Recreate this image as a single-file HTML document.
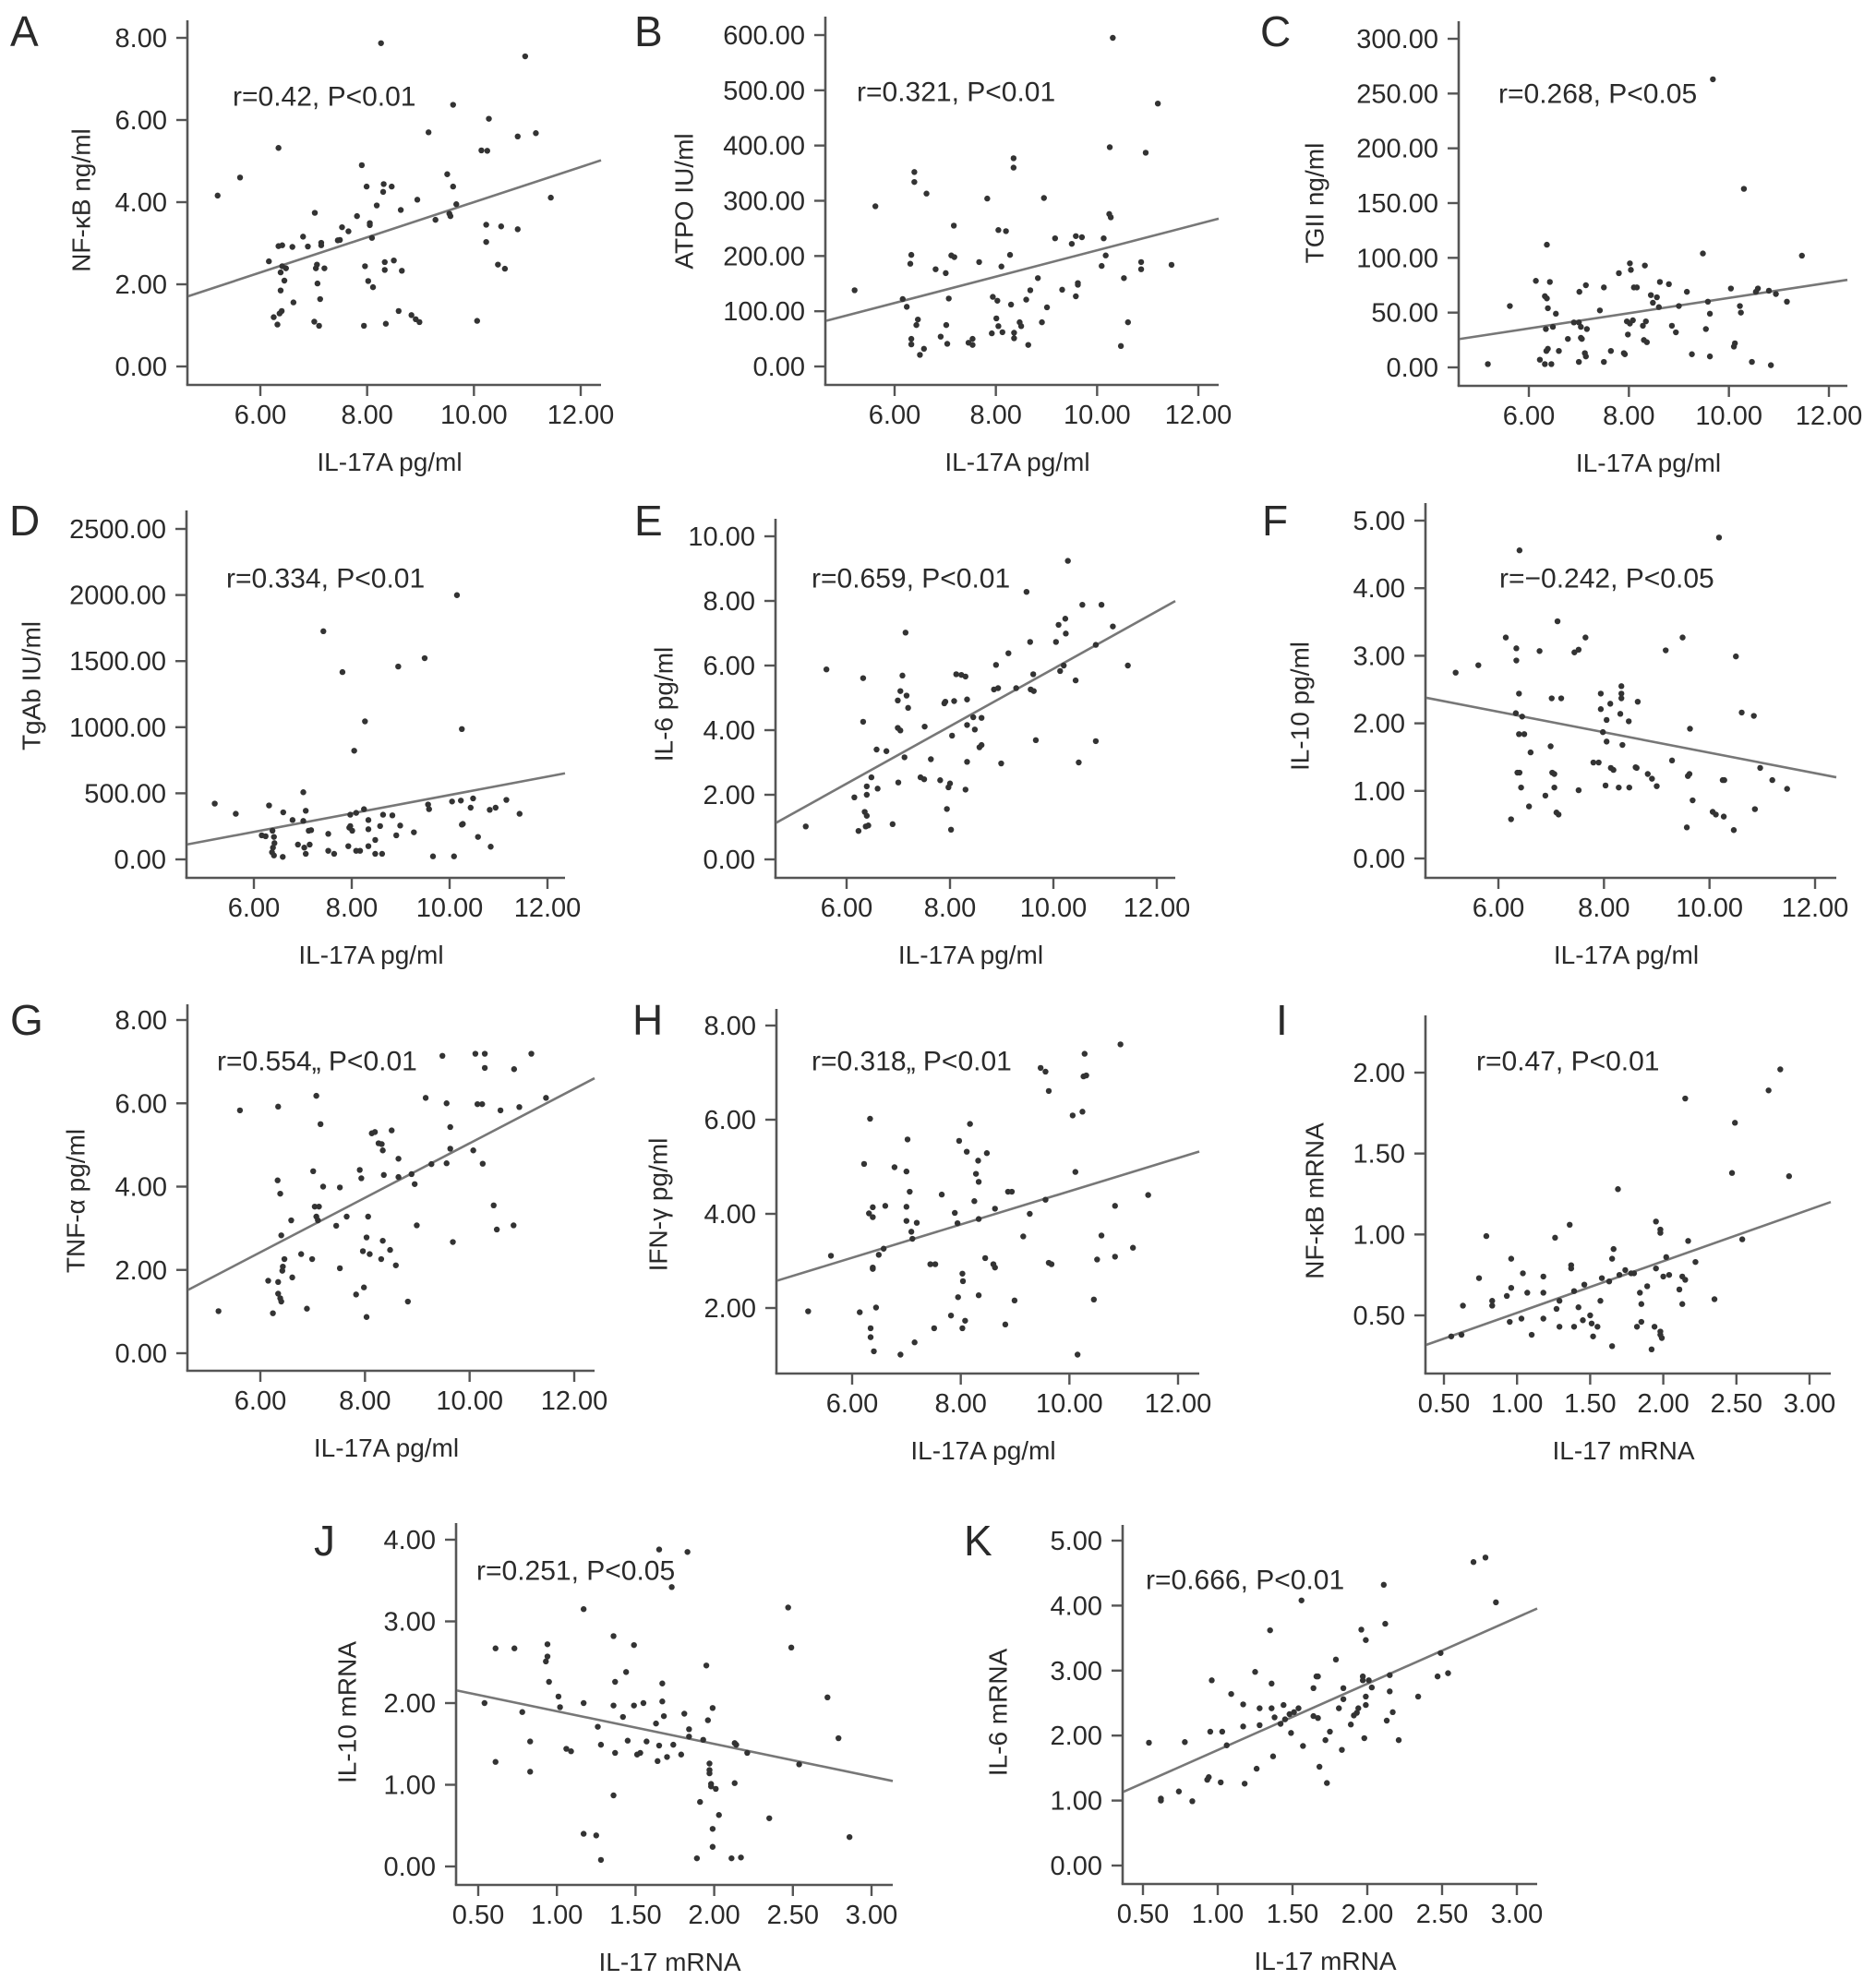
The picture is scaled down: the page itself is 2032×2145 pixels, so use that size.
<!DOCTYPE html>
<html><head><meta charset="utf-8"><title>IL-17 correlation scatter plots</title>
<style>
html,body{margin:0;padding:0;background:#fff;}
svg{display:block;}
text{font-family:"Liberation Sans",Arial,sans-serif;fill:#2a2a2a;}
</style></head>
<body>
<svg id="fig" xmlns="http://www.w3.org/2000/svg" width="2032" height="2145" viewBox="0 0 2032 2145"></svg>
<script>
// ---- data ----
const panelLetters = ["A","B","C","D","E","F","G","H","I","J","K"];
const yTitles = ["NF-κB ng/ml","ATPO IU/ml","TGII ng/ml","TgAb IU/ml","IL-6 pg/ml","IL-10 pg/ml","TNF-α pg/ml","IFN-γ pg/ml","NF-κB mRNA","IL-10 mRNA","IL-6 mRNA"];
const xTitles = ["IL-17A pg/ml","IL-17A pg/ml","IL-17A pg/ml","IL-17A pg/ml","IL-17A pg/ml","IL-17A pg/ml","IL-17A pg/ml","IL-17A pg/ml","IL-17 mRNA","IL-17 mRNA","IL-17 mRNA"];
const annotations = ["r=0.42, P<0.01","r=0.321, P<0.01","r=0.268, P<0.05","r=0.334, P<0.01","r=0.659, P<0.01","r=−0.242, P<0.05","r=0.554„ P<0.01","r=0.318„ P<0.01","r=0.47, P<0.01","r=0.251, P<0.05","r=0.666, P<0.01"];
const xTicksPg = [6,8,10,12];
const xTicksMrna = [0.5,1,1.5,2,2.5,3];
const yTicksA = [0,2,4,6,8];
const yTicksB = [0,100,200,300,400,500,600];
const yTicksC = [0,50,100,150,200,250,300];
const yTicksD = [0,500,1000,1500,2000,2500];
const yTicksE = [0,2,4,6,8,10];
const yTicksF = [0,1,2,3,4,5];
const yTicksG = [0,2,4,6,8];
const yTicksH = [2,4,6,8];
const yTicksI = [0.5,1,1.5,2];
const yTicksJ = [0,1,2,3,4];
const yTicksK = [0,1,2,3,4,5];
const regSlope = [0.428,23.85,6.96,69.7,0.889,-0.1515,0.654,0.353,0.319,-0.40,1.02];
const regIntercept = [-0.28,-28.2,-6.2,-210,-2.99,3.08,-1.50,0.95,0.197,2.30,0.757];

const A_x=[5.20,5.62,6.34,6.16,6.41,6.34,6.60,6.80,6.89,7.02,7.14,7.14,6.41,6.48,6.38,6.45,6.38,6.62,6.40,6.36,6.25,6.32,7.01,7.10,7.06,7.04,7.20,7.07,7.12,7.49,7.45,7.53,7.65,7.81,7.90,7.99,8.05,8.05,8.09,8.18,8.30,8.31,8.46,7.96,8.02,8.11,7.94,8.33,8.33,8.50,8.63,8.65,8.59,8.35,8.83,8.91,8.98,8.94,9.15,9.28,9.50,9.61,9.54,9.56,9.67,9.61,10.14,10.25,10.28,10.06,10.23,10.23,10.51,10.45,10.58,10.82,10.82,10.96,11.16,11.44,8.26];
const A_y=[4.16,4.60,5.32,2.56,2.95,2.93,2.91,3.16,2.92,3.74,3.01,2.95,2.44,2.39,2.29,2.09,1.85,1.56,1.35,1.29,1.20,1.02,1.09,0.99,2.48,2.39,2.39,2.02,1.64,3.08,3.07,3.39,3.29,3.66,4.90,4.38,3.49,3.44,3.13,3.92,4.25,4.44,4.38,2.44,2.08,1.93,0.99,2.54,2.35,2.58,3.81,2.33,1.35,1.04,1.25,1.15,1.08,4.06,5.70,3.57,4.68,4.38,3.72,3.66,3.95,6.37,5.26,5.25,6.03,1.11,3.45,3.03,3.41,2.48,2.38,5.60,3.34,7.55,5.68,4.11,7.87];
const B_x=[5.21,5.62,6.16,6.24,6.39,6.39,6.33,6.31,6.46,6.43,6.33,6.33,6.58,6.50,6.63,6.81,6.91,7.01,7.02,7.04,7.07,7.17,7.12,7.18,7.46,7.54,7.54,7.67,7.83,7.94,8.03,8.01,8.05,8.13,7.92,8.05,8.20,8.11,8.35,8.35,8.28,8.30,8.36,8.36,8.47,8.50,8.60,8.68,8.64,8.83,8.95,9.01,8.91,9.17,9.31,9.50,9.58,9.70,9.62,9.62,9.58,10.13,10.09,10.17,10.25,10.24,10.27,10.31,10.53,10.47,10.61,10.87,10.87,10.96,11.20,11.47];
const B_y=[138,290,122,108,352,334,202,186,85,75,50,40,32,21,313,176,54,169,75,41,123,255,201,198,43,50,39,189,304,126,119,87,73,62,60,247,245,181,377,360,202,112,61,51,80,73,121,138,39,160,305,107,80,232,139,222,236,234,151,148,127,232,182,201,397,276,270,595,160,37,80,189,176,387,476,184];
const C_x=[5.18,5.62,6.14,6.36,6.32,6.36,6.38,6.42,6.34,6.48,6.54,6.35,6.38,6.22,6.32,6.45,6.60,6.78,6.90,7.00,7.01,7.14,7.04,7.16,7.04,7.06,7.12,7.14,7.0,7.42,7.50,7.64,7.50,7.90,7.92,7.80,8.02,8.04,8.10,8.16,7.96,8.02,8.08,7.98,8.32,8.34,8.28,8.30,8.36,8.44,8.56,8.48,8.62,8.60,8.80,8.86,8.94,9.0,9.16,9.26,9.48,9.58,9.62,9.54,9.62,10.04,10.12,10.10,10.22,10.24,10.30,10.46,10.58,10.54,10.80,10.94,10.84,11.16,11.46,9.68];
const C_y=[3,56,79,112,65,63,54,78,35,37,49,15,17,7,3,3,15,26,41,41,69,75,37,35,27,26,13,10,5,52,73,15,5,13,12,86,95,89,73,73,42,40,43,30,93,42,38,25,23,66,64,59,78,55,76,38,32,56,69,12,104,60,49,35,10,72,22,19,56,50,163,5,72,69,70,67,2,60,102,263];
const D_x=[5.20,5.63,6.31,6.16,6.24,6.38,6.41,6.42,6.39,6.37,6.41,6.59,6.60,6.79,6.90,7.01,7.06,7.01,7.12,7.17,7.03,7.06,7.14,7.52,7.52,7.64,7.42,7.81,7.95,8.01,7.97,7.97,7.93,8.09,8.05,8.27,8.25,8.09,8.17,8.34,8.34,8.34,8.48,8.48,8.62,8.58,8.64,8.83,8.91,8.99,8.95,9.27,9.49,9.56,9.58,9.66,10.05,10.23,10.48,10.15,10.25,10.25,10.27,10.09,10.43,10.58,10.84,10.82,10.94,11.16,11.43];
const D_y=[422,345,408,182,175,217,170,123,89,54,30,19,356,298,112,508,368,291,217,221,89,42,112,193,65,42,1726,1417,240,217,252,338,100,352,822,1044,380,65,65,298,228,100,147,42,42,252,338,333,182,256,1459,205,1522,415,380,23,438,445,461,1999,986,263,268,23,391,170,96,375,391,450,345];
const E_x=[5.21,5.61,6.15,6.23,6.32,6.32,6.35,6.39,6.39,6.39,6.37,6.42,6.48,6.60,6.58,6.77,6.89,6.99,7.04,7.0,6.99,7.04,7.08,7.14,7.16,7.19,7.12,7.43,7.50,7.51,7.63,7.81,7.91,7.89,8.0,7.97,7.94,8.02,8.04,8.08,8.12,8.22,8.30,8.33,8.30,8.33,8.33,8.45,8.48,8.61,8.61,8.57,8.85,8.93,8.89,8.99,9.13,9.28,9.48,9.55,9.56,9.62,9.61,9.66,10.05,10.10,10.23,10.24,10.13,10.20,10.28,10.43,10.49,10.56,10.82,10.82,10.93,11.15,11.44];
const E_y=[1.02,5.88,1.92,0.88,5.61,4.26,1.47,1.35,2.26,2.0,1.02,1.05,2.54,2.19,3.40,3.35,1.09,4.92,5.21,2.38,4.07,3.99,5.69,7.02,5.07,4.69,3.16,2.54,2.48,4.11,3.10,2.45,4.88,4.83,2.35,2.23,1.56,0.92,3.83,4.90,5.73,5.71,5.66,4.95,2.16,3.02,4.16,4.40,4.02,4.38,3.54,3.47,5.26,5.30,6.02,2.97,6.38,5.30,8.28,6.73,5.26,5.21,5.73,3.69,6.73,7.26,7.45,6.99,5.83,6.0,9.24,5.54,3.0,7.88,6.64,3.66,7.88,7.21,6.0];
const F_x=[5.19,5.62,6.14,6.24,6.34,6.34,6.40,6.39,6.33,6.45,6.39,6.49,6.36,6.40,6.43,6.61,6.58,6.78,6.89,6.99,7.01,7.19,7.02,7.06,7.06,7.10,7.14,7.12,7.44,7.52,7.65,7.52,7.80,7.90,7.94,7.94,7.98,8.05,8.05,8.03,8.12,8.13,8.18,8.28,8.31,8.33,8.33,8.33,8.35,8.47,8.48,8.60,8.62,8.64,8.83,8.91,9.0,9.17,9.29,9.49,9.57,9.59,9.62,9.63,9.68,10.06,10.12,10.18,10.25,10.28,10.27,10.46,10.50,10.61,10.84,10.86,10.96,11.19,11.47];
const F_y=[2.75,2.86,3.27,0.58,3.11,2.93,4.56,2.44,2.15,2.10,1.84,1.84,1.27,1.27,1.05,1.57,0.77,3.07,0.93,1.66,2.37,2.37,1.27,1.25,1.05,0.68,0.65,3.51,3.05,3.09,3.27,1.01,1.42,1.42,2.44,2.21,1.87,2.05,1.73,1.08,2.29,1.34,1.31,1.05,2.14,2.55,2.44,2.37,1.68,2.03,1.05,1.35,1.34,2.32,1.25,1.18,1.07,3.08,1.45,3.27,0.46,1.22,1.25,1.92,0.86,0.69,0.65,4.75,1.16,1.16,0.62,0.42,2.99,2.16,2.11,0.73,1.34,1.16,1.03];
const G_x=[5.20,5.61,6.15,6.24,6.34,6.33,6.38,6.34,6.34,6.38,6.40,6.40,6.46,6.43,6.42,6.59,6.61,6.78,6.89,6.99,7.01,7.07,7.04,7.12,7.07,7.10,7.15,7.20,7.45,7.52,7.52,7.65,7.83,7.90,7.93,7.96,7.98,8.03,8.06,8.03,8.09,8.13,8.19,8.26,8.32,8.34,8.31,8.34,8.36,8.48,8.51,8.59,8.64,8.64,8.82,8.89,8.95,8.99,9.16,9.27,9.48,9.56,9.56,9.63,9.63,9.68,10.07,10.11,10.29,10.29,10.15,10.24,10.25,10.46,10.52,10.59,10.84,10.85,10.95,11.18,11.46];
const G_y=[1.01,5.83,1.74,0.96,5.92,4.15,3.83,1.71,1.43,1.32,1.24,2.83,2.26,2.08,1.98,3.19,1.82,2.38,1.07,2.26,4.37,6.18,3.52,3.52,3.28,3.19,5.50,4.0,3.06,3.98,2.04,3.28,1.41,4.40,4.20,2.45,1.58,2.78,3.28,0.87,2.38,5.28,5.31,5.04,5.02,4.87,2.26,2.70,4.28,2.48,5.35,2.11,4.67,4.23,1.24,4.30,4.06,3.07,6.13,4.54,7.14,6.0,4.56,5.43,4.91,2.67,4.87,7.19,7.19,6.85,5.98,5.98,4.55,3.55,2.97,5.83,3.07,6.82,5.91,7.19,6.13];
const H_x=[5.19,5.61,6.14,6.22,6.33,6.31,6.38,6.38,6.38,6.38,6.34,6.34,6.40,6.44,6.49,6.58,6.61,6.78,6.89,7.02,7.0,7.0,7.0,7.06,7.09,7.11,7.19,7.15,7.44,7.53,7.51,7.65,7.82,7.89,7.94,7.95,7.97,8.03,8.04,8.03,8.08,8.11,8.17,8.25,8.28,8.32,8.33,8.33,8.33,8.45,8.48,8.60,8.63,8.63,8.82,8.87,8.94,8.99,9.15,9.27,9.47,9.56,9.56,9.62,9.62,9.67,10.06,10.11,10.15,10.24,10.26,10.31,10.28,10.45,10.51,10.59,10.84,10.84,10.94,11.17,11.45];
const H_y=[1.93,3.11,1.91,5.06,6.02,4.01,3.93,4.14,2.86,2.83,1.57,1.38,1.08,2.01,3.13,3.26,4.17,4.99,1.01,5.58,4.90,4.15,3.85,4.47,3.62,3.47,3.81,1.27,2.93,2.93,1.57,4.41,1.84,4.02,3.80,2.23,5.55,2.73,2.57,1.57,1.73,5.32,5.91,4.27,4.85,5.13,4.68,3.89,2.27,3.06,5.29,2.93,2.86,4.11,1.65,4.47,4.47,2.16,3.52,4.0,7.10,7.02,4.30,6.61,2.96,2.93,6.09,4.89,1.01,6.17,6.92,6.94,7.40,2.18,3.03,3.54,4.17,3.09,7.60,3.28,4.40];
const I_x=[0.55,0.63,0.62,0.74,0.79,0.83,0.83,0.93,0.96,0.96,0.95,1.03,1.04,1.07,1.10,1.18,1.18,1.18,1.26,1.27,1.29,1.29,1.36,1.37,1.37,1.39,1.39,1.42,1.46,1.45,1.50,1.51,1.52,1.55,1.57,1.58,1.63,1.65,1.66,1.65,1.69,1.70,1.74,1.78,1.80,1.82,1.84,1.85,1.85,1.89,1.92,1.94,1.95,1.98,1.98,1.95,1.98,1.98,1.99,2.0,2.04,2.02,2.11,2.13,2.15,2.13,2.15,2.17,2.22,2.35,2.47,2.49,2.54,2.72,2.80,2.86];
const I_y=[0.37,0.56,0.38,0.73,0.99,0.59,0.56,0.62,0.67,0.85,0.46,0.48,0.76,0.64,0.38,0.74,0.64,0.48,0.98,0.54,0.59,0.43,1.06,0.81,0.79,0.65,0.43,0.55,0.69,0.47,0.50,0.45,0.37,0.43,0.59,0.73,0.71,0.85,0.91,0.31,1.28,0.75,0.78,0.76,0.76,0.43,0.64,0.57,0.46,0.68,0.29,0.43,1.08,1.03,1.01,0.79,0.40,0.38,0.36,0.74,0.75,0.86,0.66,0.74,0.72,0.57,1.84,0.96,0.83,0.60,1.38,1.69,0.97,1.89,2.02,1.36];
const J_x=[0.54,0.61,0.61,0.73,0.78,0.83,0.83,0.93,0.94,0.94,0.95,1.01,1.02,1.06,1.09,1.17,1.17,1.17,1.25,1.26,1.28,1.28,1.36,1.36,1.36,1.37,1.37,1.42,1.44,1.45,1.49,1.49,1.51,1.53,1.55,1.57,1.63,1.64,1.65,1.65,1.67,1.67,1.68,1.70,1.73,1.74,1.79,1.81,1.83,1.84,1.84,1.89,1.91,1.93,1.95,1.96,1.97,1.97,1.97,1.98,1.98,1.99,1.99,1.99,2.01,2.03,2.11,2.17,2.13,2.14,2.13,2.21,2.35,2.47,2.49,2.54,2.72,2.79,2.86];
const J_y=[2.0,2.67,1.28,2.67,1.89,1.53,1.16,2.51,2.57,2.72,2.26,2.08,1.95,1.44,1.41,3.15,2.0,0.40,0.38,1.71,1.49,0.08,2.82,1.97,0.87,2.26,1.39,1.83,2.38,1.54,2.71,1.97,1.37,1.39,2.0,1.53,1.75,1.29,3.88,1.48,2.02,2.24,1.84,1.34,3.42,1.49,1.37,1.87,3.85,1.68,1.59,0.10,0.79,1.55,2.46,1.79,1.26,1.18,1.14,1.01,0.98,1.94,0.46,0.24,0.95,0.63,0.10,0.11,1.51,1.49,1.02,1.39,0.59,3.17,2.68,1.25,2.07,1.57,0.36];
const K_x=[0.54,0.62,0.62,0.74,0.78,0.83,0.93,0.94,0.95,0.96,1.02,1.03,1.06,1.09,1.17,1.17,1.18,1.25,1.26,1.28,1.28,1.35,1.36,1.36,1.37,1.38,1.42,1.44,1.45,1.48,1.51,1.54,1.49,1.56,1.57,1.64,1.64,1.67,1.66,1.67,1.68,1.72,1.73,1.75,1.79,1.81,1.83,1.84,1.84,1.89,1.91,1.93,1.94,1.96,1.97,1.97,1.98,1.99,1.99,1.99,2.01,2.03,2.11,2.12,2.13,2.15,2.15,2.17,2.21,2.34,2.47,2.49,2.54,2.71,2.79,2.86];
const K_y=[1.89,1.03,1.0,1.14,1.90,0.99,1.32,1.36,2.06,2.85,1.28,2.06,1.85,2.64,2.48,2.14,1.26,2.98,1.49,2.42,2.16,3.62,2.80,2.42,1.68,2.28,2.18,2.47,2.25,2.33,2.36,2.42,2.04,4.08,1.84,2.73,2.30,2.27,2.91,2.91,1.52,1.93,1.27,2.06,3.17,2.42,1.78,2.73,2.56,2.17,2.31,2.35,2.42,3.63,2.91,2.85,1.96,3.47,2.60,2.47,2.85,2.74,4.32,3.72,2.23,2.93,2.68,2.36,1.93,2.60,2.91,3.27,2.96,4.67,4.74,4.05];

// ---- layout (pixel geometry, not data) ----
const layout = [
 {ax:203,top:22,ay:417,right:651,xa:[6,282,12,629],ya:[0,397,8,41],lx:11,ly:50,ytx:88,yty:217,anx:252,any:105},
 {ax:894,top:18,ay:417,right:1320,xa:[6,969,12,1298],ya:[0,397,600,38],lx:687,ly:50,ytx:741,yty:218,anx:928,any:100},
 {ax:1580,top:23,ay:418,right:2001,xa:[6,1656,12,1981],ya:[0,398,300,42],lx:1365,ly:50,ytx:1424,yty:220,anx:1623,any:102},
 {ax:202,top:553,ay:951,right:612,xa:[6,275,12,593],ya:[0,931,2500,573],lx:10,ly:580,ytx:34,yty:743,anx:245,any:627},
 {ax:840,top:562,ay:951,right:1273,xa:[6,917,12,1253],ya:[0,931,10,581],lx:687,ly:580,ytx:719,yty:763,anx:879,any:627},
 {ax:1544,top:545,ay:951,right:1989,xa:[6,1623,12,1966],ya:[0,930,5,564],lx:1367,ly:580,ytx:1408,yty:765,anx:1624,any:627},
 {ax:203,top:1088,ay:1485,right:644,xa:[6,282,12,622],ya:[0,1466,8,1105],lx:11,ly:1121,ytx:82,yty:1301,anx:235,any:1150},
 {ax:841,top:1093,ay:1488,right:1299,xa:[6,923,12,1276],ya:[2,1417,8,1111],lx:685,ly:1121,ytx:713,yty:1305,anx:879,any:1150},
 {ax:1544,top:1100,ay:1488,right:1983,xa:[0.5,1564,3,1960],ya:[0.5,1425,2,1162],lx:1382,ly:1121,ytx:1424,yty:1301,anx:1599,any:1150},
 {ax:494,top:1650,ay:2042,right:967,xa:[0.5,518,3,944],ya:[0,2022,4,1668],lx:340,ly:1685,ytx:376,yty:1855,anx:516,any:1702},
 {ax:1216,top:1652,ay:2041,right:1665,xa:[0.5,1238,3,1643],ya:[0,2021,5,1669],lx:1044,ly:1685,ytx:1081,yty:1855,anx:1241,any:1712}
];
const xsAll=[A_x,B_x,C_x,D_x,E_x,F_x,G_x,H_x,I_x,J_x,K_x];
const ysAll=[A_y,B_y,C_y,D_y,E_y,F_y,G_y,H_y,I_y,J_y,K_y];
const yTickSets=[yTicksA,yTicksB,yTicksC,yTicksD,yTicksE,yTicksF,yTicksG,yTicksH,yTicksI,yTicksJ,yTicksK];

const NS="http://www.w3.org/2000/svg";
const svg=document.getElementById('fig');
function mk(tag,attrs,parent){const e=document.createElementNS(NS,tag);for(const k in attrs)e.setAttribute(k,attrs[k]);parent.appendChild(e);return e;}

layout.forEach(function(L,i){
  const g=mk('g',{},svg);
  
  
  const xs=function(v){return L.xa[1]+(v-L.xa[0])*(L.xa[3]-L.xa[1])/(L.xa[2]-L.xa[0]);};
  const ys=function(v){return L.ya[1]+(v-L.ya[0])*(L.ya[3]-L.ya[1])/(L.ya[2]-L.ya[0]);};
  const xinv=function(p){return L.xa[0]+(p-L.xa[1])*(L.xa[2]-L.xa[0])/(L.xa[3]-L.xa[1]);};
  const lt=mk('text',{x:L.lx,y:L.ly,'font-size':46},g);lt.textContent=panelLetters[i];
  
  
  const yl=mk('line',{x1:L.ax,y1:L.top,x2:L.ax,y2:L.ay,stroke:'#555','stroke-width':2.6},g);
  
  
  const xl=mk('line',{x1:L.ax-1.3,y1:L.ay,x2:L.right,y2:L.ay,stroke:'#555','stroke-width':2.6},g);
  
  
  const xt=(i>=8)?xTicksMrna:xTicksPg;
  xt.forEach(function(v){
    const px=xs(v);
    const tk=mk('line',{x1:px,y1:L.ay,x2:px,y2:L.ay+12,stroke:'#555','stroke-width':2.4},g);
    
    
    const tl=mk('text',{x:px,y:L.ay+42,'font-size':29,'text-anchor':'middle'},g);
    tl.textContent=v.toFixed(2);
    
    
  });
  yTickSets[i].forEach(function(v){
    const py=ys(v);
    const tk=mk('line',{x1:L.ax-12,y1:py,x2:L.ax,y2:py,stroke:'#555','stroke-width':2.4},g);
    
    
    const tl=mk('text',{x:L.ax-22,y:py+10,'font-size':29,'text-anchor':'end'},g);
    tl.textContent=v.toFixed(2);
    
    
  });
  const xtt=mk('text',{x:(L.ax+L.right)/2-5,y:L.ay+93,'font-size':28,'text-anchor':'middle'},g);
  xtt.textContent=xTitles[i];
  
  
  const ytt=mk('text',{x:L.ytx,y:L.yty,'font-size':28,'text-anchor':'middle','dominant-baseline':'central',transform:'rotate(-90 '+L.ytx+' '+L.yty+')'},g);
  ytt.textContent=yTitles[i];
  
  
  const an=mk('text',{x:L.anx,y:L.any,'font-size':30,'dominant-baseline':'central'},g);
  an.textContent=annotations[i];
  
  
  const x0=xinv(L.ax+1), x1=xinv(L.right);
  const rl=mk('line',{x1:xs(x0),y1:ys(regIntercept[i]+regSlope[i]*x0),x2:xs(x1),y2:ys(regIntercept[i]+regSlope[i]*x1),stroke:'#777','stroke-width':2.6},g);
  
  
  const X=xsAll[i],Y=ysAll[i],n=Math.min(X.length,Y.length);
  for(let k=0;k<n;k++){
    const c=mk('circle',{cx:xs(X[k]),cy:ys(Y[k]),r:3.2,fill:'#333'},g);
    
    
  }
});
</script>
</body></html>
